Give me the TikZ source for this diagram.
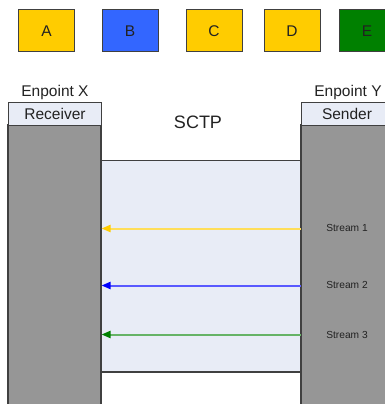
\documentclass[tikz,border=0pt]{standalone}
\usepackage{fontspec}
\setmainfont{Liberation Sans}
\usetikzlibrary{arrows.meta}
\definecolor{boxyellow}{HTML}{FFCC00}
\definecolor{boxblue}{HTML}{3366FF}
\definecolor{boxgreen}{HTML}{008000}
\definecolor{colgray}{HTML}{969696}
\definecolor{paleblue}{HTML}{E8ECF6}
\definecolor{edge}{HTML}{404040}
\definecolor{ink}{HTML}{222222}
\tikzset{
  chunk/.style={draw=edge, line width=1pt, minimum width=56pt, minimum height=42pt,
    inner sep=0pt, font=\fontsize{15.5}{18}\selectfont, text=ink},
  header/.style={draw=edge, line width=1pt, fill=paleblue, inner sep=0pt,
    font=\fontsize{15.5}{18}\selectfont, text=ink},
  column/.style={draw=edge, line width=1.1pt, fill=colgray},
  endlabel/.style={font=\fontsize{15.5}{18}\selectfont, text=ink},
  streamlabel/.style={font=\fontsize{10.2}{12}\selectfont, text=ink},
  flow/.style={line width=2pt},
}
\begin{document}
\begin{tikzpicture}[x=1pt,y=-1pt]
\useasboundingbox (0,0) rectangle (385,404);
% data chunks waiting to be sent
\node[chunk, fill=boxyellow] (A) at (46.5,31) {A};
\node[chunk, fill=boxblue]   (B) at (130,31) {B};
\node[chunk, fill=boxyellow] (C) at (214,31) {C};
\node[chunk, fill=boxyellow] (D) at (292,31) {D};
\node[chunk, fill=boxgreen]  (E) at (367,31) {E};
% association area between the endpoints
\fill[paleblue] (101,160.5) rectangle (301,372);
\draw[edge, line width=1.1pt] (101,160.5) -- (301,160.5) (101,372) -- (301,372);
% endpoint columns
\draw[column] (8,125) rectangle (101,410);
\draw[column] (301,125) rectangle (392,410);
\node[header, minimum width=93pt, minimum height=23pt, anchor=north west] (recv) at (8,102) {Receiver};
\node[header, minimum width=91pt, minimum height=23pt, anchor=north west] (send) at (301,102) {Sender};
\node[endlabel] (epx) at (55,92) {Enpoint X};
\node[endlabel] (epy) at (348,92) {Enpoint Y};
\node[font=\fontsize{18}{21}\selectfont, text=ink] (sctp) at (198,122) {SCTP};
% streams
\coordinate (s1) at (300.5,228.5); \coordinate (r1) at (101.5,228.5);
\coordinate (s2) at (300.5,285.5); \coordinate (r2) at (101.5,285.5);
\coordinate (s3) at (300.5,334.5); \coordinate (r3) at (101.5,334.5);
\draw[flow, draw=boxyellow!65, -{Triangle[length=9pt,width=7pt,color=boxyellow]}] (s1) -- (r1);
\draw[flow, draw=blue!65, -{Triangle[length=9pt,width=7pt,color=blue]}] (s2) -- (r2);
\draw[flow, draw=boxgreen!60, -{Triangle[length=9pt,width=7pt,color=boxgreen]}] (s3) -- (r3);
\node[streamlabel] (l1) at (347,228) {Stream 1};
\node[streamlabel] (l2) at (347,285) {Stream 2};
\node[streamlabel] (l3) at (347,335) {Stream 3};
\end{tikzpicture}
\end{document}
